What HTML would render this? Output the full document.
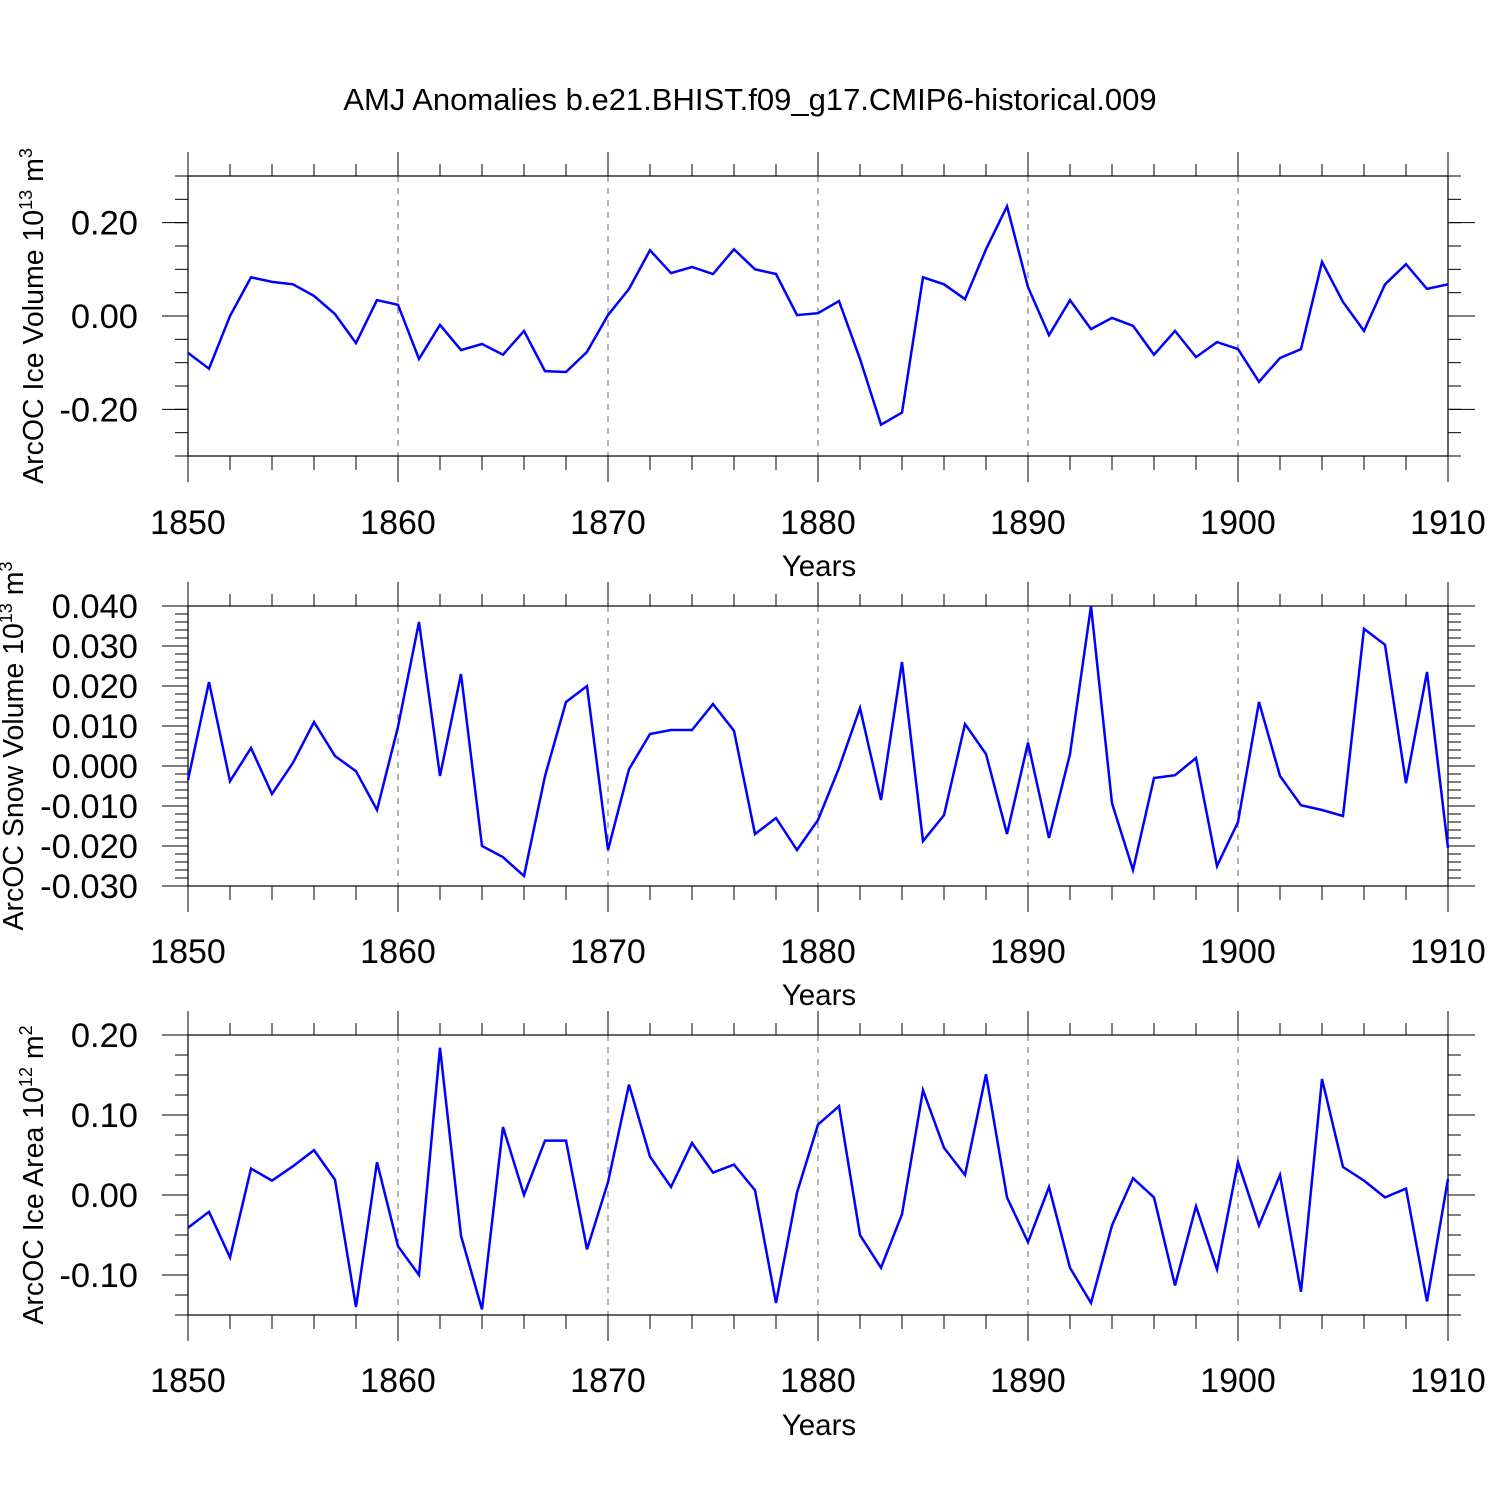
<!DOCTYPE html>
<html><head><meta charset="utf-8"><style>
html,body{margin:0;padding:0;background:#fff}
svg{display:block;font-family:"Liberation Sans",Arial,sans-serif}
</style></head><body>
<svg id="chart" width="1500" height="1500" viewBox="0 0 1500 1500">
<text x="750" y="110" font-size="31" text-anchor="middle">AMJ Anomalies b.e21.BHIST.f09_g17.CMIP6-historical.009</text>
</svg>
<script>
const years = [];
for (let y = 1850; y <= 1910; y++) years.push(y);
const iceVolume = [-0.079,-0.113,0.0,0.083,0.073,0.068,0.043,0.004,-0.058,0.034,0.024,-0.092,-0.019,-0.073,-0.06,-0.083,-0.032,-0.118,-0.12,-0.077,0.002,0.058,0.141,0.092,0.105,0.09,0.143,0.1,0.09,0.002,0.006,0.032,-0.092,-0.233,-0.207,0.083,0.068,0.036,0.143,0.235,0.062,-0.041,0.034,-0.028,-0.004,-0.021,-0.083,-0.032,-0.088,-0.056,-0.071,-0.141,-0.09,-0.071,0.116,0.03,-0.032,0.068,0.111,0.058,0.068];
const snowVolume = [-0.0035,0.021,-0.0038,0.0045,-0.007,0.0008,0.011,0.0025,-0.0013,-0.011,0.0098,0.036,-0.0025,0.023,-0.020,-0.0228,-0.0275,-0.0025,0.016,0.020,-0.021,-0.0008,0.008,0.009,0.009,0.0155,0.0088,-0.017,-0.013,-0.021,-0.0135,-0.0005,0.0145,-0.0085,0.026,-0.0188,-0.0123,0.0105,0.003,-0.017,0.0058,-0.018,0.003,0.040,-0.0093,-0.026,-0.003,-0.0023,0.002,-0.025,-0.014,0.016,-0.0025,-0.0098,-0.011,-0.0125,0.0343,0.0303,-0.0043,0.0235,-0.0205];
const iceArea = [-0.041,-0.021,-0.078,0.033,0.018,0.036,0.056,0.019,-0.14,0.041,-0.064,-0.1,0.184,-0.051,-0.143,0.085,0.0,0.068,0.068,-0.068,0.016,0.138,0.048,0.01,0.065,0.028,0.038,0.006,-0.135,0.003,0.088,0.111,-0.05,-0.091,-0.024,0.131,0.059,0.025,0.151,-0.003,-0.059,0.01,-0.091,-0.135,-0.038,0.021,-0.003,-0.113,-0.014,-0.093,0.041,-0.038,0.025,-0.121,0.145,0.035,0.018,-0.003,0.008,-0.133,0.02];
const xTickLabels = ["1850","1860","1870","1880","1890","1900","1910"];
const p1Ticks = ["-0.20","0.00","0.20"];
const p2Ticks = ["-0.030","-0.020","-0.010","0.000","0.010","0.020","0.030","0.040"];
const p3Ticks = ["-0.10","0.00","0.10","0.20"];

const NS = "http://www.w3.org/2000/svg";
const svg = document.getElementById('chart');
function el(tag, attrs, parent) {
  const e = document.createElementNS(NS, tag);
  for (const k in attrs) e.setAttribute(k, attrs[k]);
  (parent || svg).appendChild(e);
  return e;
}
const X0 = 188, X1 = 1448;
const xs = y => X0 + (y - 1850) * (X1 - X0) / 60;

const panels = [
  {name:'ice-volume', data: iceVolume, ticks: p1Ticks, top:176, bot:456, vmin:-0.3, vmax:0.3, minor:0.05, titleX:33, title:['ArcOC Ice Volume 10','13',' m','3'], labY:534, yrY:576},
  {name:'snow-volume', data: snowVolume, ticks: p2Ticks, top:606, bot:886, vmin:-0.03, vmax:0.04, minor:0.002, titleX:13, title:['ArcOC Snow Volume 10','13',' m','3'], labY:963, yrY:1005},
  {name:'ice-area', data: iceArea, ticks: p3Ticks, top:1035, bot:1315, vmin:-0.15, vmax:0.2, minor:0.025, titleX:33, title:['ArcOC Ice Area 10','12',' m','2'], labY:1392, yrY:1435}
];

panels.forEach(p => {
  const g = el('g', {});
  
  
  const ys = v => p.bot - (v - p.vmin) * (p.bot - p.top) / (p.vmax - p.vmin);
  for (let yr = 1860; yr <= 1900; yr += 10) {
    const gl = el('line', {x1: xs(yr), x2: xs(yr), y1: p.top, y2: p.bot, stroke:'#666', 'stroke-width':1, 'stroke-dasharray':'6,6'}, g);
    
    
  }
  const fr = el('rect', {x: X0, y: p.top, width: X1 - X0, height: p.bot - p.top, fill:'none', stroke:'#000', 'stroke-width':1.2}, g);
  
  
  for (let yr = 1850; yr <= 1910; yr += 2) {
    const major = (yr % 10 === 0);
    const len = major ? 24 : 12;
    el('line', {x1: xs(yr), x2: xs(yr), y1: p.top - len, y2: p.top, stroke:'#000', 'stroke-width':1}, g);
    el('line', {x1: xs(yr), x2: xs(yr), y1: p.bot, y2: p.bot + len + 2, stroke:'#000', 'stroke-width':1}, g);
  }
  xTickLabels.forEach(l => {
    const t = el('text', {x: xs(+l), y: p.labY, 'font-size':34, 'text-anchor':'middle'}, g);
    t.textContent = l;
    
    
  });
  const yt = el('text', {x: 819, y: p.yrY, 'font-size':29.5, 'text-anchor':'middle'}, g);
  yt.textContent = 'Years';
  
  
  const nMin = Math.round((p.vmax - p.vmin) / p.minor);
  for (let i = 0; i <= nMin; i++) {
    const v = p.vmin + i * p.minor;
    el('line', {x1: X0 - 13, x2: X0, y1: ys(v), y2: ys(v), stroke:'#000', 'stroke-width':1}, g);
    el('line', {x1: X1, x2: X1 + 13, y1: ys(v), y2: ys(v), stroke:'#000', 'stroke-width':1}, g);
  }
  p.ticks.forEach(l => {
    const v = parseFloat(l);
    el('line', {x1: X0 - 26, x2: X0, y1: ys(v), y2: ys(v), stroke:'#000', 'stroke-width':1}, g);
    el('line', {x1: X1, x2: X1 + 27, y1: ys(v), y2: ys(v), stroke:'#000', 'stroke-width':1}, g);
    const t = el('text', {x: 138, y: ys(v) + 12, 'font-size':34.5, 'text-anchor':'end'}, g);
    t.textContent = l;
    
    
  });
  const cy = (p.top + p.bot) / 2;
  const tt = el('text', {x: 0, y: 0, 'font-size':28.5, 'text-anchor':'middle', transform:`translate(${p.titleX + 10},${cy}) rotate(-90)`}, g);
  
  
  const s1 = el('tspan', {}, tt); s1.textContent = p.title[0];
  const s2 = el('tspan', {dy:-11, 'font-size':18}, tt); s2.textContent = p.title[1];
  const s3 = el('tspan', {dy:11}, tt); s3.textContent = p.title[2];
  const s4 = el('tspan', {dy:-11, 'font-size':18}, tt); s4.textContent = p.title[3];
  const pts = p.data.map((v, i) => xs(years[i]).toFixed(1) + ',' + ys(v).toFixed(1)).join(' ');
  const pl = el('polyline', {points: pts, fill:'none', stroke:'#0000ff', 'stroke-width':2.5, 'stroke-linejoin':'miter'}, g);
  
  
});
</script>
</body></html>
